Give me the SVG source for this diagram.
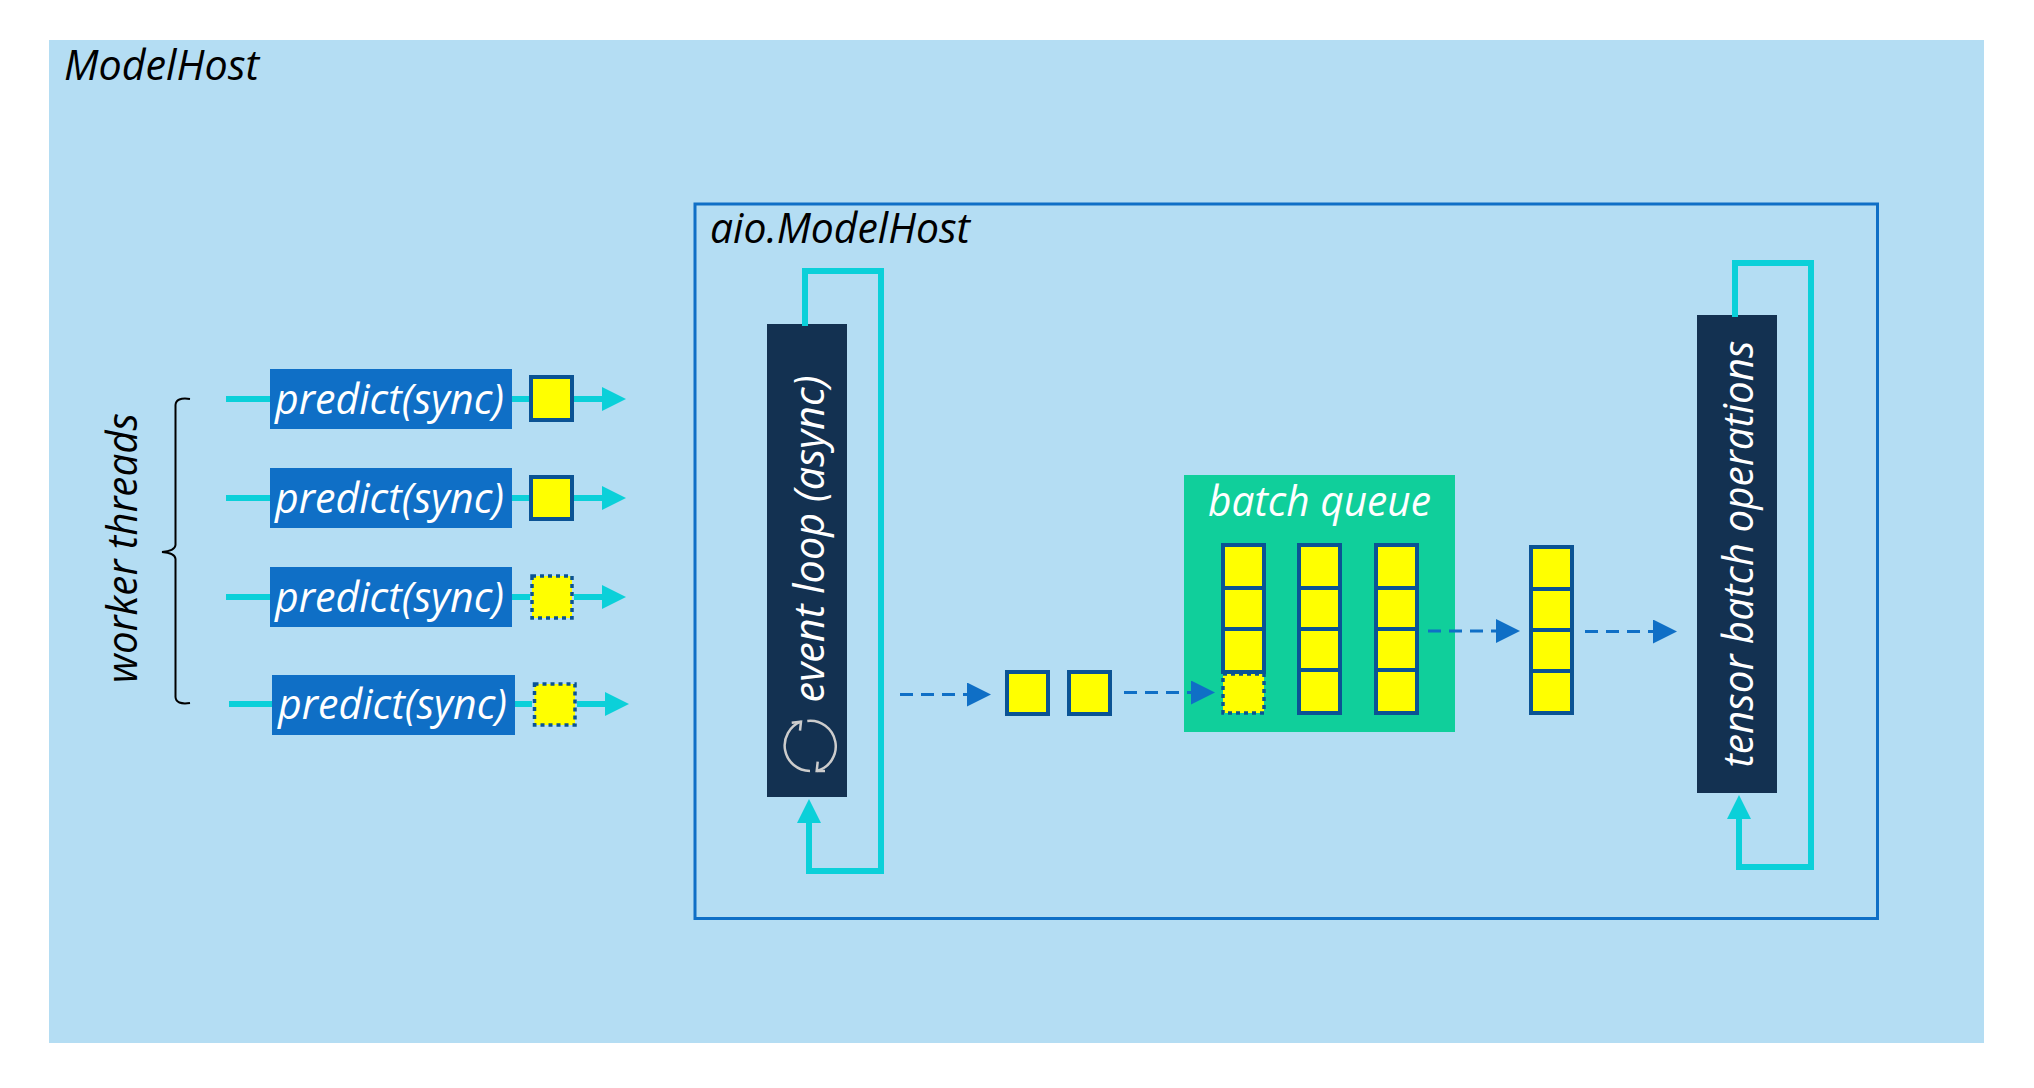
<svg xmlns="http://www.w3.org/2000/svg" width="2034" height="1088" viewBox="0 0 2034 1088">
<style>
text{font-family:"Open Sans","Noto Sans",sans-serif;font-style:italic;font-size:42px}
.w{fill:#fff}.k{fill:#000}
.blue{fill:#0F6FC6}.dark{fill:#133151}
.s{fill:#FFFF00;stroke:#0B5394;stroke-width:4}
.d{fill:#FFFF00;stroke:#0B5394;stroke-width:3.500;stroke-dasharray:4 4}
.c{fill:none;stroke:#0BD0D9;stroke-width:6}
.a{fill:none;stroke:#0F6FC6;stroke-width:3;stroke-dasharray:13 8}
</style>
<defs>
<marker id="mc" viewBox="0 0 24 24" markerUnits="userSpaceOnUse" markerWidth="24" markerHeight="24" refX="1" refY="12" orient="auto"><path d="M0 0L24 12L0 24z" fill="#0BD0D9"/></marker>
<marker id="mb" viewBox="0 0 24 24" markerUnits="userSpaceOnUse" markerWidth="24" markerHeight="24" refX="1" refY="12" orient="auto"><path d="M0 0L24 12L0 24z" fill="#0F6FC6"/></marker>
</defs>
<rect width="2034" height="1088" fill="#fff"/>
<g id="modelhost"><rect x="49" y="40" width="1935" height="1003" fill="#B4DDF3"/>
<text class="k" x="64" y="80" textLength="195" lengthAdjust="spacingAndGlyphs">ModelHost</text></g>
<g id="aio-modelhost"><rect x="695" y="204" width="1182.500" height="714.500" fill="none" stroke="#0F6FC6" stroke-width="3"/>
<text class="k" x="710" y="243" textLength="260" lengthAdjust="spacingAndGlyphs">aio.ModelHost</text></g>
<g id="worker-threads"><path d="M190 399Q176 397 175.500 405V545Q175 551 162 552Q175 553 175.500 559V697Q176 705 190 703" fill="none" stroke="#000" stroke-width="2"/>
<text class="k" transform="translate(136.500 683) rotate(-90)" textLength="270" lengthAdjust="spacingAndGlyphs">worker threads</text></g>
<g id="predict-1"><rect class="blue" x="270" y="369" width="242" height="60"/><text class="w" x="275" y="414" textLength="229" lengthAdjust="spacingAndGlyphs">predict(sync)</text><rect class="s" x="531" y="377" width="41" height="43"/></g>
<g id="predict-2"><rect class="blue" x="270" y="468" width="242" height="60"/><text class="w" x="275" y="513" textLength="229" lengthAdjust="spacingAndGlyphs">predict(sync)</text><rect class="s" x="531" y="477" width="41" height="42"/></g>
<g id="predict-3"><rect class="blue" x="270" y="567" width="242" height="60"/><text class="w" x="275" y="612" textLength="229" lengthAdjust="spacingAndGlyphs">predict(sync)</text><rect class="d" x="532" y="576" width="40" height="42"/></g>
<g id="predict-4"><rect class="blue" x="272" y="675" width="243" height="60"/><text class="w" x="278" y="719" textLength="229" lengthAdjust="spacingAndGlyphs">predict(sync)</text><rect class="d" x="534.500" y="684" width="40.500" height="41"/></g>
<g id="event-loop"><rect class="dark" x="767" y="324" width="80" height="473"/>
<text class="w" transform="translate(824 702.500) rotate(-90)" textLength="327" lengthAdjust="spacingAndGlyphs">event loop (async)</text>
<g fill="none" stroke="#CCCCCC" stroke-width="2.500"><path d="M810 771A25.500 25.500 0 0 1 801 721.700"/><path d="M791.700 722.700L801 721.700L800 730.700"/><path d="M807.300 721A25.500 25.500 0 0 1 816.700 771"/><path d="M825 771H816.700L817.700 761.700"/></g></g>
<g id="item-1"><rect class="s" x="1007" y="672" width="41" height="42"/></g>
<g id="item-2"><rect class="s" x="1069" y="672" width="41" height="42"/></g>
<g id="batch-queue"><rect x="1184" y="475" width="271" height="257" fill="#10CF9B"/>
<text class="w" x="1208" y="516" textLength="223" lengthAdjust="spacingAndGlyphs">batch queue</text>
<rect class="d" x="1223" y="674" width="41" height="39"/>
<rect class="s" x="1223" y="545" width="41" height="43"/><rect class="s" x="1223" y="588" width="41" height="41"/><rect class="s" x="1223" y="629" width="41" height="43"/>
<rect class="s" x="1299" y="545" width="41" height="43"/><rect class="s" x="1299" y="588" width="41" height="41"/><rect class="s" x="1299" y="629" width="41" height="41"/><rect class="s" x="1299" y="670" width="41" height="43"/>
<rect class="s" x="1376" y="545" width="41" height="43"/><rect class="s" x="1376" y="588" width="41" height="41"/><rect class="s" x="1376" y="629" width="41" height="41"/><rect class="s" x="1376" y="670" width="41" height="43"/></g>
<g id="batch"><rect class="s" x="1531" y="547" width="41" height="42"/><rect class="s" x="1531" y="589" width="41" height="41"/><rect class="s" x="1531" y="630" width="41" height="41"/><rect class="s" x="1531" y="671" width="41" height="42"/></g>
<g id="tensor-batch"><rect class="dark" x="1697" y="315" width="80" height="478"/>
<text class="w" transform="translate(1753 767.500) rotate(-90)" textLength="427" lengthAdjust="spacingAndGlyphs">tensor batch operations</text></g>
<g id="connectors">
<path class="c" d="M226 399H270M512 399H529M574 399H603" marker-end="url(#mc)"/>
<path class="c" d="M226 498H270M512 498H529M574 498H603" marker-end="url(#mc)"/>
<path class="c" d="M226 597H270M512 597H530M574 597H603" marker-end="url(#mc)"/>
<path class="c" d="M229 704H272M515 704H532M577 704H606" marker-end="url(#mc)"/>
<path class="c" d="M805 326V271H881V871H809V822" marker-end="url(#mc)"/>
<path class="c" d="M1735 317V263H1811V867H1739V818" marker-end="url(#mc)"/>
<path class="a" d="M900 694.500H968" marker-end="url(#mb)"/>
<path class="a" d="M1124 692.500H1192" marker-end="url(#mb)"/>
<path class="a" d="M1428 631H1497" marker-end="url(#mb)"/>
<path class="a" d="M1585 631.500H1654" marker-end="url(#mb)"/>
</g>
</svg>
